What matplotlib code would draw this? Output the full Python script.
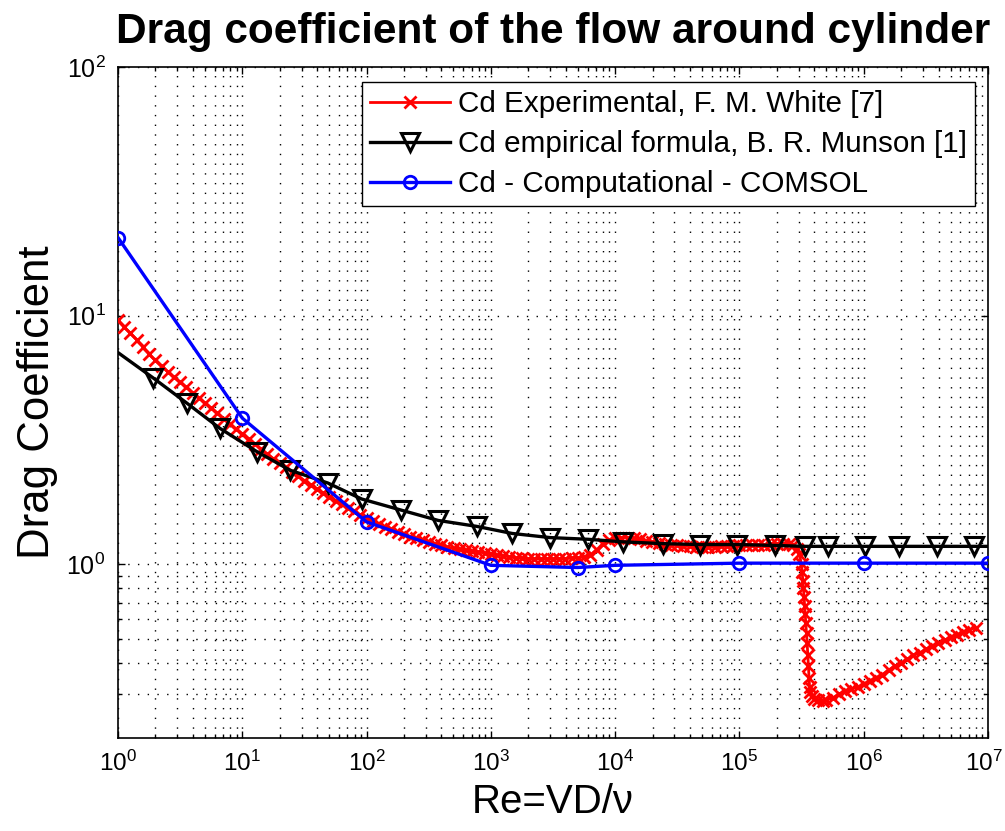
import numpy as np
import matplotlib
matplotlib.use('Agg')
import matplotlib.pyplot as plt
from matplotlib.lines import Line2D
from matplotlib import ticker
from matplotlib.transforms import ScaledTranslation

plt.rcParams['font.family'] = ['Liberation Sans', 'DejaVu Sans']
plt.rcParams['mathtext.fontset'] = 'custom'
plt.rcParams['mathtext.rm'] = 'Liberation Sans'
plt.rcParams['mathtext.default'] = 'regular'

# Cd experimental, F. M. White (log10 of Re, Cd)
white_logre = [0.00, 0.05, 0.10, 0.15, 0.20, 0.25, 0.30, 0.35, 0.40, 0.45,
               0.50, 0.55, 0.60, 0.65, 0.70, 0.75, 0.80, 0.85, 0.90, 0.95,
               1.00, 1.05, 1.10, 1.15, 1.20, 1.25, 1.30, 1.35, 1.40, 1.45,
               1.50, 1.55, 1.60, 1.65, 1.70, 1.75, 1.80, 1.85, 1.90, 1.95,
               2.00, 2.05, 2.10, 2.15, 2.20, 2.25, 2.30, 2.35, 2.40, 2.45,
               2.50, 2.55, 2.60, 2.65, 2.70, 2.75, 2.80, 2.85, 2.90, 2.95,
               3.00, 3.05, 3.10, 3.15, 3.20, 3.25, 3.30, 3.35, 3.40, 3.45,
               3.50, 3.55, 3.60, 3.65, 3.70, 3.75, 3.80, 3.85, 3.90, 3.95,
               4.00, 4.05, 4.10, 4.15, 4.20, 4.25, 4.30, 4.35, 4.40, 4.45,
               4.50, 4.55, 4.60, 4.65, 4.70, 4.75, 4.80, 4.85, 4.90, 4.95,
               5.00, 5.05, 5.10, 5.15, 5.20, 5.25, 5.30, 5.35, 5.40, 5.43,
               5.46, 5.48, 5.50, 5.505, 5.51, 5.515, 5.52, 5.525, 5.53, 5.535,
               5.54, 5.545, 5.55, 5.555, 5.56, 5.565, 5.57, 5.58, 5.60, 5.63,
               5.67, 5.70, 5.75, 5.80, 5.85, 5.90, 5.95, 6.00, 6.05, 6.10,
               6.15, 6.20, 6.25, 6.30, 6.35, 6.40, 6.45, 6.50, 6.55, 6.60,
               6.65, 6.70, 6.75, 6.80, 6.85, 6.90]
white_cd = [9.6, 9.0, 8.5, 8.0, 7.5, 7.0, 6.6, 6.25, 5.95, 5.65,
            5.4, 5.15, 4.9, 4.68, 4.45, 4.25, 4.05, 3.85, 3.65, 3.5,
            3.35, 3.2, 3.05, 2.9, 2.78, 2.66, 2.55, 2.45, 2.35, 2.26,
            2.17, 2.08, 2.0, 1.93, 1.86, 1.8, 1.74, 1.68, 1.63, 1.58,
            1.53, 1.49, 1.45, 1.41, 1.38, 1.35, 1.32, 1.29, 1.27, 1.25,
            1.23, 1.21, 1.19, 1.17, 1.16, 1.15, 1.14, 1.13, 1.12, 1.11,
            1.10, 1.09, 1.08, 1.07, 1.06, 1.06, 1.05, 1.05, 1.05, 1.05,
            1.05, 1.05, 1.05, 1.06, 1.06, 1.07, 1.09, 1.14, 1.21, 1.25,
            1.27, 1.28, 1.28, 1.27, 1.26, 1.24, 1.23, 1.22, 1.21, 1.20,
            1.19, 1.18, 1.18, 1.17, 1.17, 1.17, 1.17, 1.18, 1.18, 1.18,
            1.19, 1.19, 1.20, 1.20, 1.20, 1.21, 1.21, 1.21, 1.21, 1.20,
            1.15, 1.10, 1.00, 0.93, 0.86, 0.80, 0.74, 0.68, 0.63, 0.58,
            0.53, 0.48, 0.43, 0.39, 0.35, 0.32, 0.305, 0.295, 0.288, 0.284,
            0.282, 0.284, 0.29, 0.30, 0.31, 0.315, 0.32, 0.33, 0.34, 0.35,
            0.36, 0.375, 0.39, 0.40, 0.415, 0.43, 0.44, 0.455, 0.47, 0.48,
            0.495, 0.51, 0.52, 0.535, 0.545, 0.555]

# Cd empirical formula, B. R. Munson (line points; first and last carry no marker)
munson_logre = [0.0, 0.284, 0.553, 0.82, 1.116, 1.384, 1.69, 1.96, 2.28, 2.577,
                2.886, 3.17, 3.475, 3.78, 4.065, 4.387, 4.68, 4.98, 5.285, 5.53,
                5.71, 6.01, 6.28, 6.59, 6.89, 7.0]
munson_cd = [7.1, 5.61, 4.45, 3.52, 2.84, 2.39, 2.12, 1.83, 1.65, 1.5,
             1.42, 1.33, 1.28, 1.26, 1.23, 1.21, 1.2, 1.2, 1.19, 1.18,
             1.18, 1.18, 1.18, 1.18, 1.18, 1.18]

# Cd computational, COMSOL
comsol_re = [1, 10, 100, 1e3, 5e3, 1e4, 1e5, 1e6, 1e7]
comsol_cd = [20.6, 3.87, 1.48, 0.99, 0.97, 0.99, 1.01, 1.01, 1.01]

labels = ['Cd Experimental, F. M. White [7]',
          'Cd empirical formula, B. R. Munson [1]',
          'Cd - Computational - COMSOL']

x_major = [1, 1e1, 1e2, 1e3, 1e4, 1e5, 1e6, 1e7]
y_major = [1, 1e1, 1e2]
# y minor ticks only show below 1 in the original
y_minor = [0.3, 0.4, 0.5, 0.6, 0.7, 0.8, 0.9]

fig = plt.figure(figsize=(10.05, 8.31), dpi=100)
ax = fig.add_axes([118 / 1005, 1 - 738 / 831, 870 / 1005, 671 / 831])

red_style = dict(color='red', lw=2, marker='x', ms=8, mew=2)
black_style = dict(color='black', lw=2.4, marker='v', ms=13, mew=2.2, mfc='none')
blue_style = dict(color='blue', lw=2.4, marker='o', ms=9, mew=2, mfc='none')

ax.plot(10 ** np.array(white_logre), white_cd, zorder=3, **red_style)
ax.plot(10 ** np.array(munson_logre), munson_cd, markevery=slice(1, -1),
        zorder=4, **black_style)
ax.plot(comsol_re, comsol_cd, zorder=5, **blue_style)

ax.set_xscale('log')
ax.set_yscale('log')
ax.set_xlim(1, 1e7)
ax.set_ylim(0.2, 100)

ax.xaxis.set_major_locator(ticker.FixedLocator(x_major))
ax.yaxis.set_major_locator(ticker.FixedLocator(y_major))
ax.xaxis.set_major_formatter(ticker.LogFormatterSciNotation())
ax.yaxis.set_major_formatter(ticker.LogFormatterSciNotation())
ax.xaxis.set_minor_locator(ticker.LogLocator(base=10, subs=np.arange(2, 10), numticks=20))
ax.yaxis.set_minor_locator(ticker.FixedLocator(y_minor))
ax.xaxis.set_minor_formatter(ticker.NullFormatter())
ax.yaxis.set_minor_formatter(ticker.NullFormatter())

ax.grid(True, which='both', color='black', linestyle=(0, (1, 6)), linewidth=1)
ax.tick_params(which='both', direction='in', top=True, right=True, width=1)
ax.tick_params(axis='x', labelsize=17.5, pad=9)
ax.tick_params(axis='y', labelsize=18, pad=9)
ax.tick_params(which='major', length=5)
ax.tick_params(which='minor', length=3)
for s in ax.spines.values():
    s.set_linewidth(1.2)

# pull the last x label in a little so it stays on the canvas
fig.canvas.draw()
last = ax.xaxis.get_majorticklabels()[-1]
last.set_transform(last.get_transform() + ScaledTranslation(-4 / 100, 0, fig.dpi_scale_trans))

ax.set_title('Drag coefficient of the flow around cylinder', fontsize=30.5,
             fontweight='bold', pad=17)
ax.set_xlabel('Re=VD/\u03bd', fontsize=29, labelpad=5)
ax.set_ylabel('Drag Coefficient', fontsize=31.5, labelpad=6)

handles = [Line2D([], [], **red_style),
           Line2D([], [], **black_style),
           Line2D([], [], **blue_style)]
leg = ax.legend(handles, labels, loc='upper right',
                bbox_to_anchor=((975 - 118) / 870, (738 - 82) / 671),
                borderaxespad=0, fontsize=21.3, fancybox=False, framealpha=1,
                edgecolor='black', handlelength=2.7, handletextpad=0.27,
                labelspacing=0.4, borderpad=0.28)
leg.get_frame().set_linewidth(1)
leg.set_zorder(10)

fig.savefig('out.png', dpi=100)
